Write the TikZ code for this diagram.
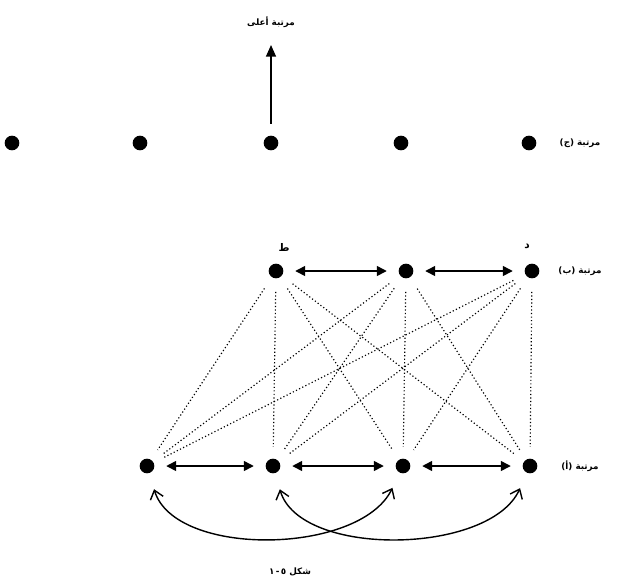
\documentclass[tikz,border=0pt]{standalone}
\usepackage{fontspec}
\newfontfamily\arabicfont[Script=Arabic]{DejaVu Sans}
\TeXXeTstate=1
\usetikzlibrary{arrows.meta}
\tikzset{
dot/.style={circle,fill=black,inner sep=0pt,minimum size=0.44cm},
lab/.style={font=\arabicfont\bfseries\fontsize{7.5}{8}\selectfont},
link/.style={{Triangle[length=0.3cm,width=0.3cm]}-{Triangle[length=0.3cm,width=0.3cm]},line width=1.3pt,shorten <=0.35cm,shorten >=0.35cm},
tie/.style={dotted,line width=1pt,shorten <=0.4cm,shorten >=0.35cm},
loop/.style={{Straight Barb[length=0.25cm,width=0.4cm]}-{Straight Barb[length=0.25cm,width=0.4cm]},line width=1.2pt,shorten <=0.5cm,shorten >=0.5cm}
}
\begin{document}
\begin{tikzpicture}[x=0.03cm,y=-0.03cm]
\useasboundingbox (0,0) rectangle (621,582);

% rank c
\foreach \n/\x in {1/12, 2/140, 3/271, 4/401, 5/529}
{
\node[dot] (c\n) at (\x,143) {};
}
\coordinate (up) at (271,45);
\draw[-{Triangle[length=0.35cm,width=0.3cm]},line width=1.3pt,shorten <=0.35cm] (c3) -- (up);
\node[lab] (high) at (271,22) {\beginR مرتبة أعلى\endR};
\node[lab] (rc) at (580,143) {\beginR مرتبة (ج)\endR};

% rank b
\foreach \n/\x in {1/276, 2/406, 3/532}
{
\node[dot] (b\n) at (\x,271) {};
}
\node[lab] (rb) at (580,271) {\beginR مرتبة (ب)\endR};
\node[lab,font=\arabicfont\bfseries\fontsize{9}{10}\selectfont] (lt) at (284,247) {\beginR ط\endR};
\node[lab,font=\arabicfont\bfseries\fontsize{9}{10}\selectfont] (ld) at (527,246) {\beginR د\endR};
\draw[link] (b1) -- (b2);
\draw[link] (b2) -- (b3);

% rank a
\foreach \n/\x in {1/147, 2/273, 3/403, 4/530}
{
\node[dot] (a\n) at (\x,466) {};
}
\node[lab] (ra) at (580,466) {\beginR مرتبة (أ)\endR};
\draw[link] (a1) -- (a2);
\draw[link] (a2) -- (a3);
\draw[link] (a3) -- (a4);

% dotted ties
\foreach \t in {1, 2, 3}
{
\foreach \b in {1, 2, 3, 4}
{
\draw[tie] (b\t) -- (a\b);
}
}

\draw[loop] (a1) .. controls (175,558) and (360,555) .. (a3);
\draw[loop] (a2) .. controls (300,558) and (490,555) .. (a4);

\node[lab] (cap) at (290,572) {\beginR شكل \beginL\mbox{١}\,\mbox{-}\,\mbox{٥}\endL\endR};
\end{tikzpicture}
\end{document}
